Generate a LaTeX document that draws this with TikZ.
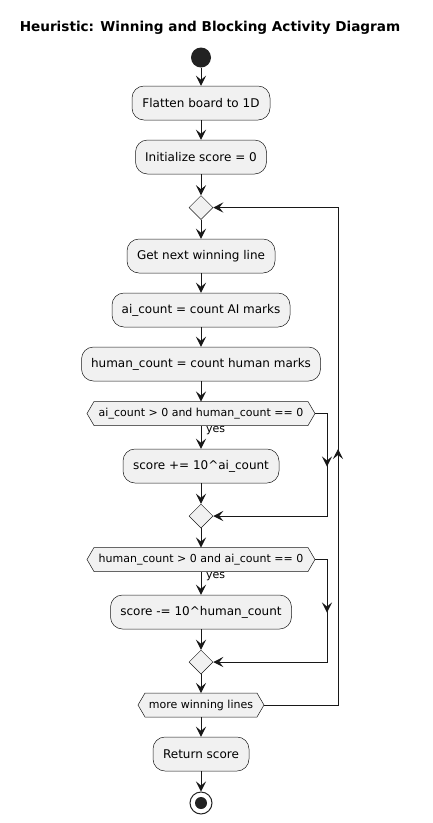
\documentclass[tikz,border=0pt]{standalone}
\usepackage{fontspec}
\setmainfont{DejaVu Sans}
\usetikzlibrary{arrows.meta,shapes.geometric,decorations.markings,calc}
\definecolor{boxfill}{HTML}{F1F1F1}
\definecolor{boxline}{HTML}{181818}
\definecolor{dark}{HTML}{222222}
\newcommand\hexnode[5]{%
  \path[hexline] (#2-#4-7,#3) -- (#2-#4,#3-12) -- (#2+#4,#3-12) -- (#2+#4+7,#3) -- (#2+#4,#3+12) -- (#2-#4,#3+12) -- cycle;
  \node[hextxt] (#1) at (#2,#3) {#5};
  \coordinate (#1e) at (#2+#4+7,#3);
  \coordinate (#1n) at (#2,#3-12);
  \coordinate (#1s) at (#2,#3+12);
}
\begin{document}
\begin{tikzpicture}[x=1pt,y=-1pt,
  act/.style={draw=boxline, line width=0.5pt, fill=boxfill, rounded corners=12pt, minimum height=34pt, inner sep=0pt, font=\fontsize{12}{14}\selectfont},
  hexline/.style={draw=boxline, line width=0.5pt, fill=boxfill},
  hextxt/.style={font=\fontsize{11}{13}\selectfont, inner sep=0pt},
  dia/.style={diamond, draw=boxline, line width=0.5pt, fill=boxfill, minimum width=24pt, minimum height=24pt, inner sep=0pt},
  tipstyle/.style={},
  flow/.style={draw=boxline, line width=1pt, -{Stealth[length=10pt,width=10pt,inset=4pt]}},
  midarrow/.style={postaction={decorate}, decoration={markings, mark=at position #1pt with {\arrow{Stealth[length=10pt,width=10pt,inset=4pt]}}}},
  lbl/.style={font=\fontsize{11}{13}\selectfont, inner sep=0pt, anchor=west}
]
\useasboundingbox (0,0) rectangle (432,823);
\node[font=\bfseries\fontsize{13.6}{16}\selectfont] (title) at (210,28) {Heuristic: Winning and Blocking Activity Diagram};
\node[circle, fill=dark, minimum size=20pt, inner sep=0pt] (start) at (201,57.5) {};
\node[act, minimum width=138pt] (flat) at (201,103) {Flatten board to 1D};
\node[act, minimum width=131pt] (init) at (201,157) {Initialize score = 0};
\node[dia] (d1) at (201,207.5) {};
\node[act, minimum width=148pt] (get) at (201,256) {Get next winning line};
\node[act, minimum width=178pt] (ai) at (201,310) {ai\_count = count AI marks};
\node[act, minimum width=239pt] (human) at (201,364) {human\_count = count human marks};
\hexnode{h1}{201}{413.5}{107}{ai\_count > 0 and human\_count == 0}
\node[act, minimum width=156pt] (sp) at (201,466) {score += 10\textasciicircum ai\_count};
\node[dia] (d2) at (201,516) {};
\hexnode{h2}{201}{559.5}{107}{human\_count > 0 and ai\_count == 0}
\node[act, minimum width=181pt] (sm) at (201,612) {score -= 10\textasciicircum human\_count};
\node[dia] (d3) at (201,662) {};
\hexnode{h3}{201}{705}{56}{more winning lines}
\node[act, minimum width=96pt] (ret) at (201,754) {Return score};
\node[circle, draw=dark, line width=1pt, fill=white, minimum size=22pt, inner sep=0pt] (stop) at (201,803) {};
\node[circle, fill=dark, minimum size=12pt, inner sep=0pt] (stopin) at (stop) {};

\draw[flow] (start) -- (flat);
\draw[flow] (flat) -- (init);
\draw[flow] (init) -- (d1);
\draw[flow] (d1) -- (get);
\draw[flow] (get) -- (ai);
\draw[flow] (ai) -- (human);
\draw[flow] (human) -- (h1n);
\draw[flow] (h1s) -- (sp);
\node[lbl] (yes1) at (206,431) {yes};
\draw[flow] (sp) -- (d2);
\draw[flow] (d2) -- (h2n);
\draw[flow] (h2s) -- (sm);
\node[lbl] (yes2) at (206,577) {yes};
\draw[flow] (sm) -- (d3);
\draw[flow] (d3) -- (h3n);
\draw[flow] (h3s) -- (ret);
\draw[flow] (ret) -- (stop);

\draw[flow, midarrow=65] (h1e) -- ++(12,0) |- (d2.east);
\draw[flow, midarrow=65] (h2e) -- ++(12,0) |- (d3.east);
\draw[flow, midarrow=330] (h3e) -- ++(74,0) |- (d1.east);
\end{tikzpicture}
\end{document}
